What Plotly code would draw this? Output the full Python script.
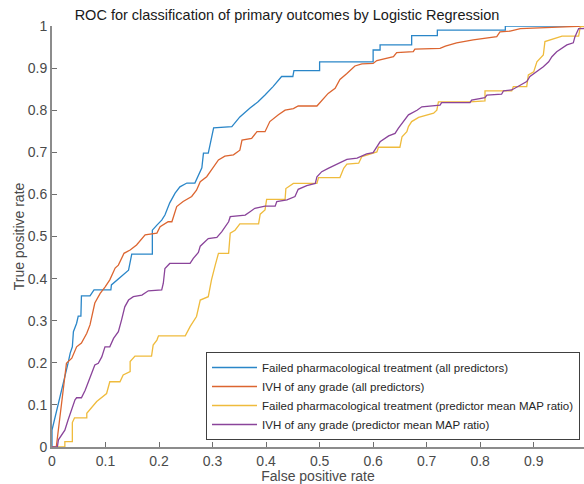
import plotly.graph_objects as go

# Failed pharmacological treatment (all predictors)
blue_fpr = [0, 0, 0.03, 0.034, 0.038, 0.04, 0.046, 0.049, 0.054, 0.055, 0.071, 0.0785, 0.110, 0.111, 0.143, 0.149,
            0.1875, 0.1875, 0.196, 0.205, 0.211, 0.22, 0.23, 0.239, 0.252, 0.267, 0.28, 0.283, 0.292, 0.302, 0.336,
            0.351, 0.37, 0.385, 0.398, 0.413, 0.429, 0.45, 0.452, 0.50, 0.50, 0.60, 0.60, 0.613, 0.613, 0.672, 0.672,
            0.72, 0.72, 0.847, 0.847, 1.0]
blue_tpr = [0, 0.04, 0.199, 0.223, 0.238, 0.274, 0.294, 0.311, 0.311, 0.359, 0.359, 0.373, 0.373, 0.385, 0.42, 0.458,
            0.458, 0.515, 0.527, 0.539, 0.551, 0.58, 0.603, 0.618, 0.627, 0.627, 0.663, 0.698, 0.698, 0.758, 0.761,
            0.784, 0.805, 0.82, 0.836, 0.856, 0.88, 0.88, 0.894, 0.894, 0.915, 0.915, 0.943, 0.943, 0.955, 0.955, 0.977,
            0.977, 0.99, 0.99, 1.0, 1.0]

# IVH of any grade (all predictors)
orange_fpr = [0, 0.008, 0.027, 0.037, 0.046, 0.055, 0.065, 0.071, 0.08, 0.09, 0.099, 0.108, 0.118, 0.124, 0.1345,
              0.146, 0.158, 0.174, 0.196, 0.202, 0.217, 0.224, 0.233, 0.245, 0.261, 0.27, 0.277, 0.289, 0.298, 0.311,
              0.323, 0.339, 0.351, 0.355, 0.373, 0.383, 0.398, 0.407, 0.423, 0.4355, 0.451, 0.46, 0.495, 0.504, 0.516,
              0.529, 0.538, 0.551, 0.566, 0.579, 0.60, 0.607, 0.638, 0.644, 0.675, 0.678, 0.725, 0.735, 0.756, 0.787,
              0.831, 0.837, 0.856, 0.875, 0.943, 0.98, 1.0]
orange_tpr = [0, 0, 0.199, 0.211, 0.238, 0.247, 0.27, 0.29, 0.342, 0.365, 0.38, 0.397, 0.425, 0.432, 0.46, 0.468,
              0.48, 0.504, 0.508, 0.523, 0.535, 0.535, 0.571, 0.583, 0.595, 0.61, 0.63, 0.642, 0.658, 0.682, 0.691,
              0.694, 0.705, 0.729, 0.733, 0.749, 0.749, 0.773, 0.789, 0.80, 0.804, 0.81, 0.81, 0.824, 0.84, 0.852,
              0.873, 0.887, 0.905, 0.91, 0.911, 0.918, 0.927, 0.937, 0.939, 0.945, 0.947, 0.952, 0.96, 0.967, 0.975,
              0.986, 0.988, 0.994, 0.997, 0.998, 1.0]

# Failed pharmacological treatment (predictor mean MAP ratio)
yellow_fpr = [0, 0.024, 0.024, 0.038, 0.038, 0.042, 0.042, 0.065, 0.065, 0.0835, 0.102, 0.108, 0.127, 0.133, 0.146,
              0.146, 0.155, 0.186, 0.189, 0.196, 0.199, 0.249, 0.258, 0.27, 0.277, 0.292, 0.298, 0.305, 0.311, 0.33,
              0.333, 0.342, 0.351, 0.386, 0.389, 0.398, 0.401, 0.4355, 0.437, 0.451, 0.495, 0.498, 0.538, 0.545, 0.551,
              0.573, 0.579, 0.607, 0.61, 0.65, 0.654, 0.663, 0.666, 0.672, 0.685, 0.713, 0.719, 0.722, 0.781, 0.809,
              0.809, 0.859, 0.862, 0.887, 0.89, 0.90, 0.906, 0.918, 0.921, 0.953, 0.984, 0.987, 1.0]
yellow_tpr = [0, 0, 0.0126, 0.0126, 0.058, 0.069, 0.069, 0.069, 0.08, 0.108, 0.127, 0.155, 0.155, 0.171, 0.179,
              0.203, 0.216, 0.216, 0.242, 0.254, 0.264, 0.264, 0.286, 0.31, 0.349, 0.357, 0.397, 0.432, 0.46, 0.46,
              0.508, 0.515, 0.53, 0.53, 0.553, 0.563, 0.588, 0.588, 0.614, 0.626, 0.626, 0.64, 0.64, 0.662, 0.672,
              0.674, 0.69, 0.701, 0.712, 0.712, 0.737, 0.749, 0.761, 0.773, 0.783, 0.793, 0.80, 0.82, 0.82, 0.822,
              0.846, 0.846, 0.856, 0.856, 0.884, 0.891, 0.915, 0.931, 0.963, 0.976, 0.976, 0.998, 1.0]

# IVH of any grade (predictor mean MAP ratio)
purple_fpr = [0, 0.01, 0.012, 0.018, 0.024, 0.03, 0.037, 0.043, 0.046, 0.055, 0.062, 0.068, 0.074, 0.08, 0.0865,
              0.093, 0.099, 0.108, 0.115, 0.124, 0.130, 0.136, 0.143, 0.152, 0.168, 0.18, 0.205, 0.208, 0.211, 0.22,
              0.258, 0.264, 0.2735, 0.277, 0.292, 0.308, 0.317, 0.323, 0.33, 0.333, 0.361, 0.37, 0.379, 0.398, 0.417,
              0.42, 0.439, 0.454, 0.46, 0.476, 0.492, 0.495, 0.504, 0.516, 0.529, 0.5415, 0.551, 0.57, 0.588, 0.60,
              0.607, 0.613, 0.629, 0.641, 0.647, 0.66, 0.666, 0.682, 0.691, 0.725, 0.728, 0.781, 0.784, 0.809, 0.8125,
              0.84, 0.8435, 0.859, 0.875, 0.887, 0.893, 0.906, 0.918, 0.928, 0.934, 0.943, 0.953, 0.962, 0.974, 0.977,
              0.984, 0.993, 1.0]
purple_tpr = [0, 0, 0.017, 0.028, 0.04, 0.064, 0.088, 0.112, 0.117, 0.117, 0.135, 0.155, 0.175, 0.195, 0.199,
              0.214, 0.238, 0.238, 0.258, 0.274, 0.302, 0.333, 0.349, 0.357, 0.361, 0.371, 0.373, 0.389, 0.424, 0.436,
              0.436, 0.448, 0.462, 0.477, 0.495, 0.498, 0.511, 0.523, 0.535, 0.547, 0.551, 0.559, 0.567, 0.572, 0.572,
              0.583, 0.587, 0.595, 0.612, 0.621, 0.626, 0.642, 0.654, 0.662, 0.67, 0.678, 0.683, 0.686, 0.696, 0.699,
              0.713, 0.725, 0.739, 0.745, 0.757, 0.777, 0.789, 0.80, 0.808, 0.812, 0.818, 0.818, 0.824, 0.83, 0.836,
              0.838, 0.846, 0.848, 0.86, 0.868, 0.88, 0.891, 0.903, 0.915, 0.927, 0.939, 0.947, 0.955, 0.96, 0.974,
              0.994, 0.994, 1.0]

series_names = [
    "Failed pharmacological treatment (all predictors)",
    "IVH of any grade (all predictors)",
    "Failed pharmacological treatment (predictor mean MAP ratio)",
    "IVH of any grade (predictor mean MAP ratio)",
]
series_colors = ["#2a86c8", "#dc6530", "#efbb3c", "#8a449a"]

tick_vals = [0, 0.1, 0.2, 0.3, 0.4, 0.5, 0.6, 0.7, 0.8, 0.9, 1]
tick_text = ["0", "0.1", "0.2", "0.3", "0.4", "0.5", "0.6", "0.7", "0.8", "0.9", "1"]

data = [(blue_fpr, blue_tpr), (orange_fpr, orange_tpr), (yellow_fpr, yellow_tpr), (purple_fpr, purple_tpr)]

fig = go.Figure()
for (xs, ys), name, color in zip(data, series_names, series_colors):
    fig.add_trace(go.Scatter(x=xs, y=ys, mode="lines", name=name,
                             line=dict(color=color, width=1.3)))

FONT = "Liberation Sans, Arial, sans-serif"
axis_common = dict(
    showgrid=False, zeroline=False, showline=True, linecolor="#8c8c8c", linewidth=2,
    ticks="inside", ticklen=5, tickwidth=1, tickcolor="#6e6e6e",
    tickvals=tick_vals, ticktext=tick_text,
    tickfont=dict(family=FONT, size=14, color="#4a4a4a"),
    mirror=False,
)

fig.update_layout(
    width=584, height=484,
    margin=dict(l=52, r=0, t=26, b=37),
    paper_bgcolor="white", plot_bgcolor="white",
    title=dict(text="ROC for classification of primary outcomes by Logistic Regression",
               x=0.4914, xanchor="center", y=0.969, yanchor="middle",
               font=dict(family=FONT, size=14.5, color="#1a1a1a")),
    xaxis=dict(range=[0, 0.994], title=dict(text="False positive rate", standoff=4,
               font=dict(family=FONT, size=14, color="#4a4a4a")), **axis_common),
    yaxis=dict(range=[0, 1], title=dict(text="True positive rate", standoff=0,
               font=dict(family=FONT, size=14, color="#4a4a4a")), **axis_common),
    legend=dict(x=0.9925, y=0.0166, xanchor="right", yanchor="bottom",
                bgcolor="white", bordercolor="#404040", borderwidth=1,
                font=dict(family=FONT, size=11.5, color="#262626"),
                itemwidth=45, tracegroupgap=0, itemclick=False),
    showlegend=True,
)

fig.write_html(
    "out.html",
    config={"displayModeBar": False},
    post_script="document.body.style.margin='0px';document.body.style.overflow='hidden';",
)
